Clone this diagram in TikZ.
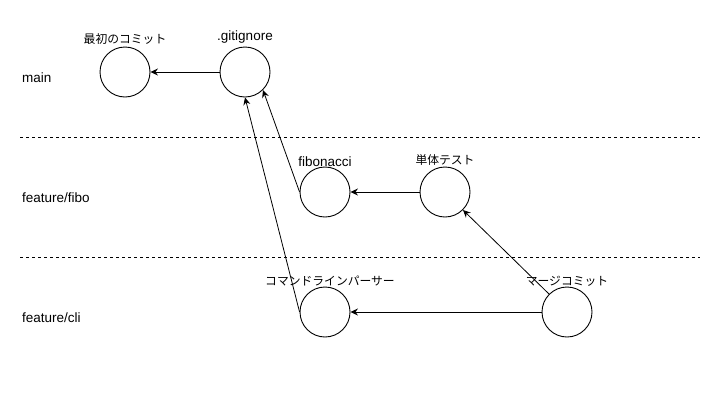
\documentclass[tikz,border=0pt]{standalone}
\usepackage{fontspec}
\setmainfont{Liberation Sans}
\newfontfamily\jpfont{Noto Sans CJK JP}
\usetikzlibrary{arrows.meta}
\begin{document}
\begin{tikzpicture}[x=1pt,y=-1pt,
  commit/.style={draw=black,circle,minimum size=50pt,inner sep=0pt,line width=0.9pt},
  lbl/.style={font=\fontsize{13.5}{15}\selectfont,anchor=base,inner sep=0pt},
  jlbl/.style={font=\jpfont\fontsize{11.8}{13}\selectfont,inner sep=0pt},
  lane/.style={font=\fontsize{13.5}{15}\selectfont,anchor=base west,inner sep=0pt},
  sep/.style={draw=black,line width=0.8pt,dash pattern=on 3pt off 3pt},
  link/.style={draw=black,line width=0.8pt,-{Stealth[length=7.5pt,width=7pt,inset=2.5pt]}}]
\useasboundingbox (0,0) rectangle (722,402);
\fill[white] (0,0) rectangle (722,402);
% lanes
\node[lane] (lmain) at (22,82) {main};
\node[lane] (lfibo) at (22,202) {feature/fibo};
\node[lane] (lcli) at (22,322) {feature/cli};
\coordinate (s1a) at (20,137);
\coordinate (s1b) at (700,137);
\coordinate (s2a) at (20,257);
\coordinate (s2b) at (700,257);
\draw[sep] (s1a) -- (s1b);
\draw[sep] (s2a) -- (s2b);
% commits
\node[commit] (c0) at (125,72) {};
\node[commit] (c1) at (245,72) {};
\node[commit] (f1) at (325,192) {};
\node[commit] (f2) at (445,192) {};
\node[commit] (k1) at (325,312) {};
\node[commit] (m1) at (567,312) {};
% labels
\node[jlbl] (t0) at (125,39) {最初のコミット};
\node[lbl] (t1) at (245,40) {.gitignore};
\node[lbl] (t2) at (325,166) {fibonacci};
\node[jlbl] (t3) at (445,160) {単体テスト};
\node[jlbl] (t4) at (330,281) {コマンドラインパーサー};
\node[jlbl] (t5) at (567,281) {マージコミット};
% connectors
\draw[link] (c1.west) -- (c0.east);
\draw[link] (f1.west) -- (c1.-45);
\draw[link] (k1.west) -- (c1.south);
\draw[link] (f2.west) -- (f1.east);
\draw[link] (m1.west) -- (k1.east);
\draw[link] (m1.135) -- (f2.-45);
\end{tikzpicture}
\end{document}
